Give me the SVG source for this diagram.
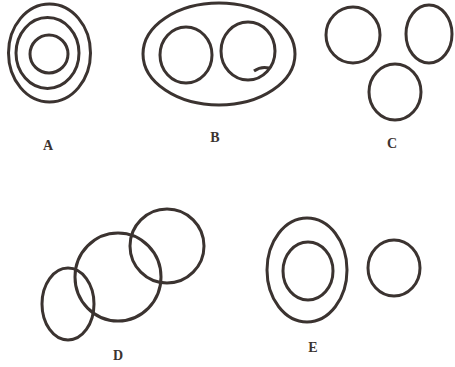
<svg xmlns="http://www.w3.org/2000/svg" width="455" height="367" viewBox="0 0 455 367">
<style>
.c{fill:none;stroke:#3b3330;stroke-width:3}
.t{font-family:"Liberation Serif",serif;font-weight:bold;font-size:14px;fill:#3b3330;text-anchor:middle}
</style>
<rect width="455" height="367" fill="#ffffff"/>
<g id="A">
<ellipse class="c" cx="49.5" cy="53" rx="41" ry="49"/>
<ellipse class="c" cx="47.5" cy="53" rx="31.5" ry="35.5"/>
<ellipse class="c" cx="49" cy="54" rx="19" ry="19"/>
<text class="t" x="48" y="150">A</text>
</g>
<g id="B">
<ellipse class="c" cx="219" cy="54" rx="76" ry="51"/>
<ellipse class="c" cx="186" cy="55" rx="26" ry="28"/>
<ellipse class="c" cx="248" cy="51" rx="27" ry="29"/>
<path class="c" d="M254 71 Q261 66 269 68" stroke-width="2"/>
<text class="t" x="215" y="142">B</text>
</g>
<g id="C">
<ellipse class="c" cx="353" cy="35" rx="27" ry="28"/>
<ellipse class="c" cx="429" cy="34" rx="23" ry="29"/>
<ellipse class="c" cx="395" cy="92" rx="26" ry="28"/>
<text class="t" x="392" y="148">C</text>
</g>
<g id="D">
<ellipse class="c" cx="68" cy="304" rx="26" ry="36"/>
<ellipse class="c" cx="118" cy="277" rx="43" ry="44"/>
<ellipse class="c" cx="167" cy="246" rx="37" ry="37"/>
<text class="t" x="118" y="360">D</text>
</g>
<g id="E">
<ellipse class="c" cx="307" cy="270" rx="40" ry="52"/>
<ellipse class="c" cx="308" cy="271" rx="25" ry="29"/>
<ellipse class="c" cx="394" cy="268" rx="26" ry="28"/>
<text class="t" x="313" y="352">E</text>
</g>
</svg>
